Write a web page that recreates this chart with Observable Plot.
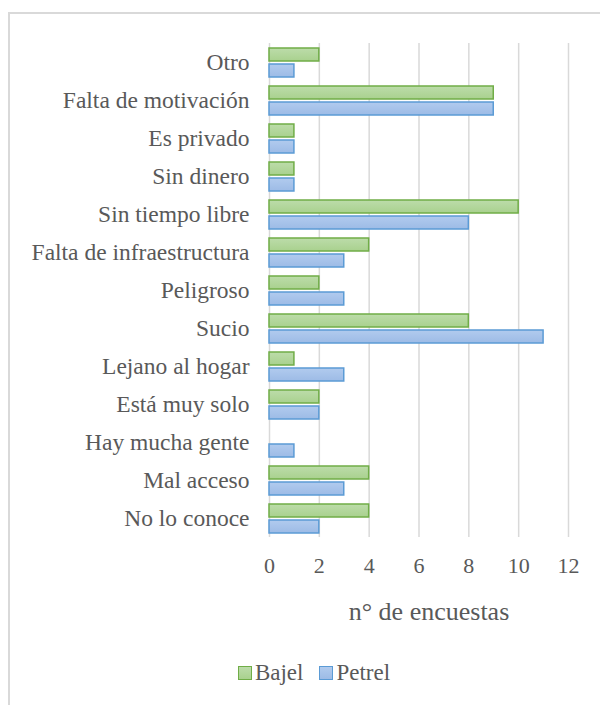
<!DOCTYPE html>
<html>
<head>
<meta charset="utf-8">
<script src="https://cdn.jsdelivr.net/npm/d3@7"></script>
<script src="https://cdn.jsdelivr.net/npm/@observablehq/plot@0.6"></script>
<style>
  html, body { margin: 0; padding: 0; background: #fff; }
  body { width: 600px; height: 705px; position: relative; overflow: hidden; color: #595959; }
  #frame { position: absolute; left: 8px; top: 12px; width: 620px; height: 720px; border-left: 2px solid #d9d9d9; border-top: 2px solid #d9d9d9; }
  #chart { position: absolute; left: 0; top: 0; }
  #xtitle { position: absolute; left: 269px; width: 320px; top: 596px; text-align: center; font-size: 26px; line-height: 32px; white-space: nowrap; }
  #legend { position: absolute; left: 0; top: 658px; width: 628px; text-align: center; font-size: 23px; line-height: 30px; white-space: nowrap; }
  .item { display: inline-flex; align-items: center; margin: 0 8px; }
  .sw { width: 12px; height: 12px; margin-right: 3px; border: 1.5px solid; }
</style>
</head>
<body>
<svg width="0" height="0" style="position:absolute">
  <defs>
    <linearGradient id="gGreen" x1="0" y1="0" x2="0" y2="1">
      <stop offset="0" stop-color="#bcdcaa"/>
      <stop offset="1" stop-color="#a9d18e"/>
    </linearGradient>
    <linearGradient id="gBlue" x1="0" y1="0" x2="0" y2="1">
      <stop offset="0" stop-color="#b1cbee"/>
      <stop offset="1" stop-color="#9dbbe6"/>
    </linearGradient>
  </defs>
</svg>
<div id="frame"></div>
<div id="chart"></div>
<div id="xtitle"></div>
<div id="legend"></div>
<script>
const categories = ["Otro", "Falta de motivación", "Es privado", "Sin dinero", "Sin tiempo libre",
  "Falta de infraestructura", "Peligroso", "Sucio", "Lejano al hogar", "Está muy solo",
  "Hay mucha gente", "Mal acceso", "No lo conoce"];
const series = ["Bajel", "Petrel"];
const bajel  = [2, 9, 1, 1, 10, 4, 2, 8, 1, 2, 0, 4, 4];
const petrel = [1, 9, 1, 1, 8, 3, 3, 11, 3, 2, 1, 3, 2];
const xTicks = [0, 2, 4, 6, 8, 10, 12];
const xLabel = "n° de encuestas";

const data = [];
categories.forEach((c, i) => {
  data.push({category: c, series: "Bajel", value: bajel[i]});
  data.push({category: c, series: "Petrel", value: petrel[i]});
});
const fills = {Bajel: "url(#gGreen)", Petrel: "url(#gBlue)"};
const strokes = {Bajel: "#70ad47", Petrel: "#5b9bd5"};
const swatch = {Bajel: "linear-gradient(#bcdcaa,#a9d18e)", Petrel: "linear-gradient(#b1cbee,#9dbbe6)"};
const FONT = "'Liberation Serif', serif";

const chart = Plot.plot({
  width: 600,
  height: 590,
  marginLeft: 269,
  marginRight: 32,
  marginTop: 42,
  marginBottom: 53,
  style: {fontSize: "23.5px", color: "#595959", background: "transparent", overflow: "visible"},
  x: {domain: [0, 12], ticks: xTicks, tickSize: 0, tickPadding: 20, label: null},
  fy: {domain: categories, padding: 0, label: null, tickSize: 0, tickPadding: 20},
  y: {domain: series, paddingInner: 0.2, paddingOuter: 0.22, axis: null},
  marks: [
    Plot.ruleX(xTicks, {stroke: "#d9d9d9", strokeWidth: 1.5}),
    Plot.barX(data.filter(d => d.value > 0), {
      fy: "category", y: "series", x: "value",
      fill: d => fills[d.series], stroke: d => strokes[d.series], strokeWidth: 1.5
    })
  ]
});
document.getElementById("chart").appendChild(chart);
chart.querySelectorAll("g[aria-label='x-axis tick label'] text").forEach(t => t.style.fontSize = "22px");

document.getElementById("xtitle").textContent = xLabel;
const legend = document.getElementById("legend");
series.forEach(s => {
  const item = document.createElement("span");
  item.className = "item";
  const sw = document.createElement("span");
  sw.className = "sw";
  sw.style.background = swatch[s];
  sw.style.borderColor = strokes[s];
  item.appendChild(sw);
  item.appendChild(document.createTextNode(s));
  legend.appendChild(item);
});
// force serif font everywhere
[document.body, chart, ...chart.querySelectorAll("g, text, tspan"), ...document.querySelectorAll("div, span")]
  .forEach(el => el.style.setProperty("font-family", FONT, "important"));
</script>
</body>
</html>
